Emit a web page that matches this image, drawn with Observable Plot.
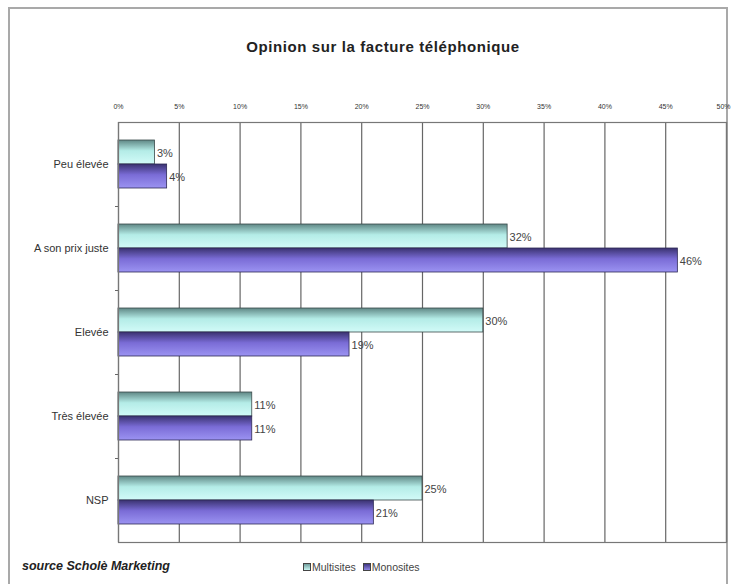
<!DOCTYPE html>
<html>
<head>
<meta charset="utf-8">
<script src="https://cdn.jsdelivr.net/npm/d3@7"></script>
<script src="https://cdn.jsdelivr.net/npm/@observablehq/plot@0.6"></script>
<style>
  html, body { margin: 0; padding: 0; background: #fff; }
  #wrap { position: relative; width: 731px; height: 584px; overflow: hidden; font-family: "Liberation Sans", Arial, sans-serif; }
  #frame { position: absolute; left: 8px; top: 7px; width: 720px; height: 620px; border: 2px solid #a9a9a9; box-sizing: border-box; }
  #title { position: absolute; left: 0; width: 766px; top: 38px; text-align: center; font-weight: bold; font-size: 15px; letter-spacing: 0.6px; color: #222; }
  #source { position: absolute; left: 22px; top: 559px; font-weight: bold; font-style: italic; font-size: 12.5px; color: #222; }
  #legend { position: absolute; left: 303px; top: 561px; font-size: 10.5px; color: #444; display: flex; gap: 7px; }
  #legend span.sw { display: inline-block; width: 6px; height: 6px; border: 1px solid #444; margin-right: 1px; vertical-align: 0px; }
  #chart { position: absolute; left: 0; top: 0; }
  [aria-label^="x-axis"] text { font-size: 7px; }
  [aria-label^="y-axis"] text { font-size: 11px; fill: #333; }
</style>
</head>
<body>
<div id="wrap">
  <div id="frame"></div>
  <div id="chart"></div>
  <div id="title">Opinion sur la facture téléphonique</div>
  <div id="source">source Scholè Marketing</div>
  <div id="legend">
    <div><span class="sw" style="background:linear-gradient(#6f9d9b,#c9f6f2)"></span>Multisites</div>
    <div><span class="sw" style="background:linear-gradient(#3f3680,#8f85e6)"></span>Monosites</div>
  </div>
</div>
<script>
const categories = ["Peu élevée", "A son prix juste", "Elevée", "Très élevée", "NSP"];
const multisites = [3, 32, 30, 11, 25];
const monosites = [4, 46, 19, 11, 21];
const xTicks = [0, 5, 10, 15, 20, 25, 30, 35, 40, 45, 50];

const multiData = categories.map((c, i) => ({category: c, value: multisites[i]}));
const monoData = categories.map((c, i) => ({category: c, value: monosites[i]}));

const svg = Plot.plot({
  width: 731,
  height: 584,
  marginTop: 122,
  marginLeft: 118,
  marginRight: 5,
  marginBottom: 42,
  style: {fontFamily: "'Liberation Sans', Arial, sans-serif", fontSize: "11px", color: "#333", background: "transparent"},
  x: {domain: [0, 50], axis: "top", ticks: xTicks, tickFormat: d => d + "%", tickSize: 0, tickPadding: 14, label: null},
  y: {domain: categories, padding: 0, tickSize: 0, tickPadding: 10, label: null},
  marks: [
    Plot.ruleX(xTicks, {stroke: "#666", strokeWidth: 1.2}),
    Plot.ruleY(categories.slice(1), {y: d => d, x1: 0, x2: 0, insetLeft: -3, dy: -42, stroke: "#666"}),
    Plot.barX(multiData, {x: "value", y: "category", fill: "url(#gMulti)", stroke: "#3a4a4a", strokeWidth: 0.8, insetTop: 18, insetBottom: 42}),
    Plot.barX(monoData, {x: "value", y: "category", fill: "url(#gMono)", stroke: "#2e2a55", strokeWidth: 0.8, insetTop: 42, insetBottom: 18}),
    Plot.text(multiData, {x: "value", y: "category", text: d => d.value + "%", dx: 2, dy: -11, textAnchor: "start", fill: "#444", fontSize: 11}),
    Plot.text(monoData, {x: "value", y: "category", text: d => d.value + "%", dx: 2, dy: 13, textAnchor: "start", fill: "#444", fontSize: 11}),
    Plot.frame({stroke: "#777", strokeWidth: 1.2})
  ]
});

const ns = "http://www.w3.org/2000/svg";
const defs = document.createElementNS(ns, "defs");
defs.innerHTML = `
  <linearGradient id="gMulti" x1="0" y1="0" x2="0" y2="1">
    <stop offset="0" stop-color="#5f8785"/>
    <stop offset="0.45" stop-color="#b4ece7"/>
    <stop offset="1" stop-color="#d2fbf8"/>
  </linearGradient>
  <linearGradient id="gMono" x1="0" y1="0" x2="0" y2="1">
    <stop offset="0" stop-color="#3a3270"/>
    <stop offset="0.45" stop-color="#7a6cd6"/>
    <stop offset="1" stop-color="#9b93f2"/>
  </linearGradient>`;
svg.insertBefore(defs, svg.firstChild);
const xLabels = svg.querySelectorAll('[aria-label^="x-axis"] text');
if (xLabels.length) {
  const last = xLabels[xLabels.length - 1];
  last.setAttribute("text-anchor", "end");
  last.setAttribute("dx", "4");
}
document.getElementById("chart").appendChild(svg);
</script>
</body>
</html>
